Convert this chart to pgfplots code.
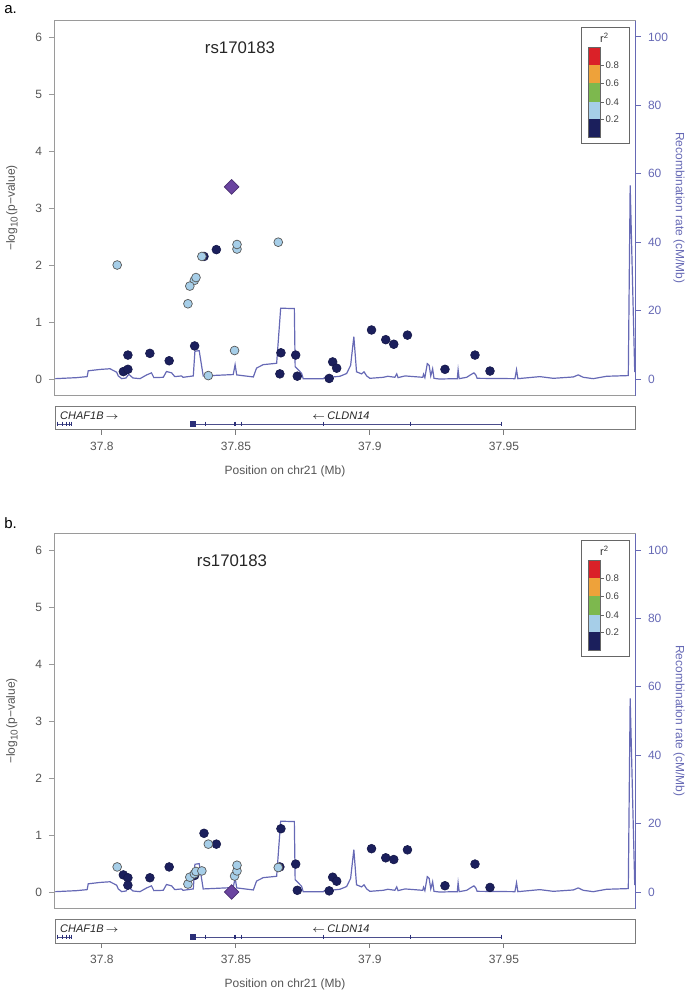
\documentclass[border=0pt]{standalone}
\usepackage{pgfplots}
\pgfplotsset{compat=1.18}
\usepackage{pgfplotstable}
\usepackage{fontspec}
\setmainfont{Liberation Sans}

\definecolor{navy}{HTML}{1B1F5C}
\definecolor{ldblue}{HTML}{A6CEE8}
\definecolor{ldgreen}{HTML}{7DB84E}
\definecolor{ldorange}{HTML}{EEA23A}
\definecolor{ldred}{HTML}{DA2128}
\definecolor{leadpurple}{HTML}{6A44A0}
\definecolor{recomb}{HTML}{6669B5}
\definecolor{axgray}{HTML}{9A9A9A}
\definecolor{ticktext}{HTML}{555555}
\definecolor{genecol}{HTML}{2B2F78}

% recombination rate, cM/Mb
\pgfplotstableread{
x r
37.7826 0.1
37.7906 0.4
37.7945 0.7
37.7949 2.4
37.7993 2.8
37.8030 3.0
37.8055 2.0
37.8061 0.9
37.8074 0.1
37.8090 0.3
37.8100 1.4
37.8116 0.3
37.8142 0.1
37.8167 1.2
37.8185 1.8
37.8194 0.4
37.8229 0.5
37.8241 2.2
37.8260 1.8
37.8272 0.7
37.8297 0.9
37.8303 0.5
37.8341 0.9
37.8347 8.1
37.8363 8.3
37.8378 0.9
37.8490 1.3
37.8497 4.2
37.8503 1.2
37.8565 0.6
37.8577 3.2
37.8602 4.2
37.8652 4.6
37.8667 20.7
37.8718 20.6
37.8721 3.6
37.8745 1.7
37.8751 0.1
37.8826 0.1
37.8836 0.7
37.8863 0.6
37.8888 0.8
37.8913 1.6
37.8928 4.0
37.8940 12.4
37.8950 2.1
37.8969 1.5
37.8978 2.1
37.8988 0.9
37.9000 0.2
37.9050 0.5
37.9067 0.8
37.9093 0.5
37.9100 1.5
37.9105 0.4
37.9131 0.9
37.9197 0.5
37.9200 1.4
37.9205 0.4
37.9214 4.5
37.9221 4.0
37.9227 0.9
37.9234 3.0
37.9239 0.2
37.9259 0.0
37.9326 0.1
37.9329 2.7
37.9333 0.1
37.9361 0.5
37.9375 1.2
37.9388 1.8
37.9395 1.2
37.9400 0.2
37.9541 0.1
37.9547 2.7
37.9552 0.1
37.9634 0.7
37.9684 0.2
37.9759 0.6
37.9777 1.2
37.9796 0.5
37.9833 0.1
37.9883 0.8
37.9964 1.0
37.9971 56.6
37.9988 2.0
}\recombtab

% panel a
\pgfplotstableread{
x y
37.8427 2.27
37.8381 2.15
37.8346 0.58
37.8097 0.42
37.8179 0.45
37.8251 0.32
37.8668 0.46
37.8723 0.42
37.8080 0.13
37.8097 0.17
37.8664 0.09
37.8729 0.05
37.8861 0.30
37.8876 0.19
37.8848 0.01
37.9006 0.86
37.9059 0.69
37.9089 0.61
37.9140 0.77
37.9280 0.17
37.9392 0.42
37.9448 0.14
}\navyA
\pgfplotstableread{
x y
37.8057 2.00
37.8504 2.28
37.8504 2.36
37.8658 2.40
37.8373 2.15
37.8345 1.73
37.8351 1.78
37.8328 1.63
37.8321 1.32
37.8495 0.50
37.8397 0.06
}\lbA
\pgfplotstableread{
x y
37.8484 3.37
}\leadA

% panel b
\pgfplotstableread{
x y
37.8080 0.30
37.8097 0.25
37.8097 0.12
37.8179 0.25
37.8251 0.44
37.8381 1.03
37.8427 0.84
37.8346 0.29
37.8664 0.44
37.8668 1.11
37.8723 0.49
37.8729 0.03
37.8861 0.26
37.8876 0.19
37.8848 0.02
37.9006 0.76
37.9059 0.60
37.9089 0.57
37.9140 0.74
37.9280 0.11
37.9392 0.49
37.9448 0.08
}\navyB
\pgfplotstableread{
x y
37.8057 0.44
37.8397 0.84
37.8321 0.14
37.8328 0.26
37.8345 0.32
37.8351 0.36
37.8373 0.37
37.8495 0.28
37.8504 0.37
37.8504 0.47
37.8658 0.43
}\lbB
\pgfplotstableread{
x y
37.8484 0.00
}\leadB

\pgfplotsset{
  basex/.style={scale only axis, width=290pt, xmin=37.7825, xmax=37.9989,
    /pgf/number format/assume math mode=true},
  mainax/.style={basex, height=187.5pt, ymin=-0.298, ymax=6.281,
    xtick=\empty, ytick={0,1,...,6}, ytick pos=left, tick align=outside,
    major tick length=3pt, axis line style={axgray, line width=0.5pt},
    tick style={axgray, line width=0.5pt},
    yticklabel style={font=\fontsize{6}{6}\selectfont, text=ticktext}},
  rightax/.style={basex, height=187.5pt, ymin=-4.967, ymax=104.68,
    axis x line=none, axis y line*=right, ytick={0,20,...,100},
    tick align=outside, major tick length=3pt,
    axis line style={recomb, line width=0.5pt}, tick style={recomb, line width=0.5pt},
    yticklabel style={font=\fontsize{6}{6}\selectfont, text=recomb}},
  geneax/.style={basex, height=11.5pt, ymin=0, ymax=1, ytick=\empty,
    xtick={37.8,37.85,37.9,37.95}, xticklabels={37.8,37.85,37.9,37.95},
    xtick pos=bottom, tick align=outside, major tick length=2.5pt,
    axis line style={axgray!80!black, line width=0.5pt},
    tick style={axgray!80!black, line width=0.5pt},
    xticklabel style={font=\fontsize{6}{6}\selectfont, text=ticktext},
    clip=false},
  navypts/.style={only marks, mark=*, mark size=2.2pt,
    mark options={fill=navy, draw=navy!80!black, line width=0.3pt}},
  lbpts/.style={only marks, mark=*, mark size=2.2pt,
    mark options={fill=ldblue, draw=black!65, line width=0.35pt}},
  leadpt/.style={only marks, mark=square*, mark size=2.6pt,
    mark options={fill=leadpurple, draw=leadpurple!70!black, line width=0.35pt, rotate=45}},
}

% #1 bottom of main axis (pt), #2 #3 #4 point tables, #5 letter, #6 x of rs label
\newcommand\panel[6]{%
  \begin{axis}[mainax, at={(27.5pt,#1pt)}]
    \addplot[recomb, line width=0.6pt] table[x=x, y expr=\thisrow{r}*0.06] {\recombtab};
    \addplot[navypts] table {#2};
    \addplot[lbpts] table {#3};
    \addplot[leadpt] table {#4};
  \end{axis}
  \begin{axis}[rightax, at={(27.5pt,#1pt)}]
  \end{axis}
  \begin{axis}[geneax, at={(27.5pt,{#1pt-17pt})}]
    \addplot[genecol!85, line width=0.5pt] coordinates {(37.7832,0.26) (37.7888,0.26)};
    \addplot[genecol!85, line width=0.5pt] coordinates {(37.8335,0.26) (37.9491,0.26)};
    \addplot[only marks, mark=|, mark size=1.2pt, mark options={genecol, line width=0.7pt}]
      coordinates {(37.7834,0.26) (37.7852,0.26) (37.7868,0.26) (37.7880,0.26) (37.7887,0.26)
        (37.8387,0.26) (37.8496,0.26) (37.8520,0.26) (37.8827,0.26) (37.9152,0.26) (37.9491,0.26)};
    \addplot[only marks, mark=square*, mark size=1.1pt, mark options={genecol}]
      coordinates {(37.8339,0.26)};
    \node[anchor=west, inner sep=0pt, font=\fontsize{5.5}{5.5}\selectfont\itshape, text=black!85]
      at (axis cs:37.7843,0.62) {CHAF1B\,$\rightarrow$};
    \node[anchor=east, inner sep=0pt, font=\fontsize{5.5}{5.5}\selectfont\itshape, text=black!85]
      at (axis cs:37.9000,0.62) {$\leftarrow$\,CLDN14};
  \end{axis}
  % axis titles
  \node[font=\fontsize{6}{6}\selectfont, text=ticktext] at (142.5pt,{#1pt-37.5pt}) {Position on chr21 (Mb)};
  \node[rotate=90, font=\fontsize{6}{6}\selectfont, text=ticktext] at (6pt,{#1pt+94pt})
    {−log\textsubscript{10}(p−value)};
  \node[rotate=-90, font=\fontsize{6}{6}\selectfont, text=recomb] at (339.5pt,{#1pt+94pt})
    {Recombination rate (cM/Mb)};
  \node[font=\fontsize{8.4}{8.4}\selectfont, text=black!85] at (#6pt,{#1pt+174pt}) {rs170183};
  \node[anchor=west, inner sep=0pt, font=\fontsize{7.5}{7.5}\selectfont] at (2pt,{#1pt+193pt}) {#5};
  % r^2 key
  \draw[black!60, line width=0.4pt] (290.5pt,{#1pt+126.5pt}) rectangle (314.5pt,{#1pt+184.5pt});
  \fill[ldred]    (294pt,{#1pt+165.5pt}) rectangle (300pt,{#1pt+174.5pt});
  \fill[ldorange] (294pt,{#1pt+156.5pt}) rectangle (300pt,{#1pt+165.5pt});
  \fill[ldgreen]  (294pt,{#1pt+147pt})   rectangle (300pt,{#1pt+156.5pt});
  \fill[ldblue]   (294pt,{#1pt+138.5pt}) rectangle (300pt,{#1pt+147pt});
  \fill[navy]     (294pt,{#1pt+129.5pt}) rectangle (300pt,{#1pt+138.5pt});
  \draw[black!60, line width=0.3pt] (294pt,{#1pt+129.5pt}) rectangle (300pt,{#1pt+174.5pt});
  \foreach \yy/\lab in {165.5/0.8, 156.5/0.6, 147/0.4, 138.5/0.2} {
    \draw[black!60, line width=0.3pt] (300pt,{#1pt+\yy pt}) -- (301.8pt,{#1pt+\yy pt});
    \node[anchor=west, inner sep=0.8pt, font=\fontsize{4.8}{4.8}\selectfont, text=black!75]
      at (301.8pt,{#1pt+\yy pt}) {\lab};
  }
  \node[font=\fontsize{5.5}{5.5}\selectfont, text=black!80] at (302.3pt,{#1pt+179pt}) {r\textsuperscript{2}};
}

\begin{document}
\begin{tikzpicture}
  \useasboundingbox (0,0) rectangle (342.5pt,495.5pt);
  \panel{297.5}{\navyA}{\lbA}{\leadA}{a.}{120}
  \panel{41}{\navyB}{\lbB}{\leadB}{b.}{116}
\end{tikzpicture}
\end{document}
